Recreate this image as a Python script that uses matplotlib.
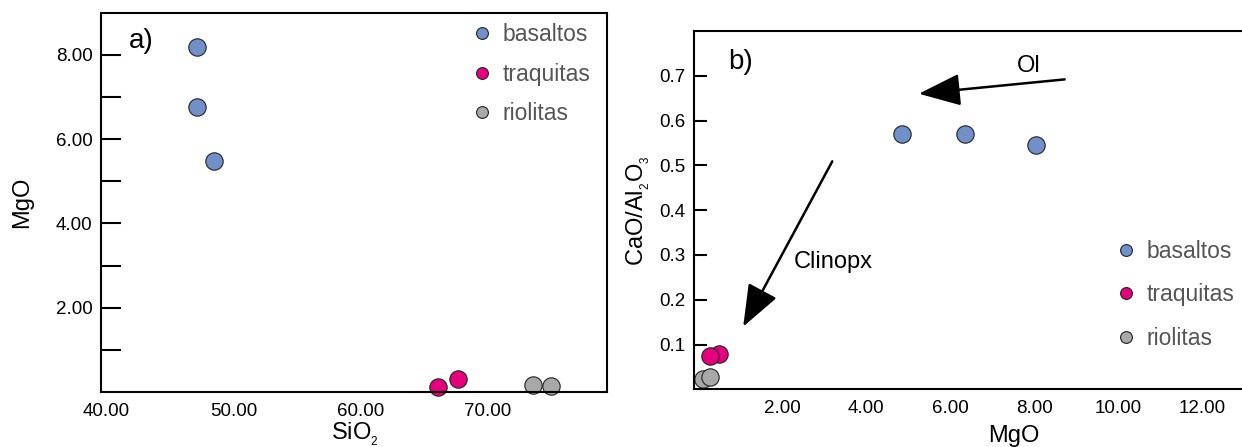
import numpy as np
import matplotlib
matplotlib.use("Agg")
import matplotlib.pyplot as plt
from matplotlib.ticker import FixedLocator, FormatStrFormatter

plt.rcParams['font.family'] = ['Liberation Sans', 'DejaVu Sans']
plt.rcParams['mathtext.fontset'] = 'custom'
plt.rcParams['mathtext.rm'] = 'Liberation Sans'
plt.rcParams['mathtext.it'] = 'Liberation Sans:italic'

# panel a) SiO2 vs MgO
a_bas_sio2 = [47.1, 47.1, 48.5]
a_bas_mgo = [8.19, 6.76, 5.48]
a_tra_sio2 = [66.1, 67.7]
a_tra_mgo = [0.13, 0.31]
a_rio_sio2 = [73.6, 75.0]
a_rio_mgo = [0.17, 0.15]

# panel b) MgO vs CaO/Al2O3
b_bas_mgo = [4.86, 6.36, 8.03]
b_bas_ratio = [0.570, 0.571, 0.545]
b_tra_mgo = [0.49, 0.27]
b_tra_ratio = [0.079, 0.075]
b_rio_mgo = [0.11, 0.28]
b_rio_ratio = [0.022, 0.027]

# trend arrows (tail, tip) in MgO / ratio units
ol_tail, ol_tip = (8.72, 0.692), (5.25, 0.660)
cpx_tail, cpx_tip = (3.19, 0.509), (1.07, 0.140)

labels = ["basaltos", "traquitas", "riolitas"]
colors = ["#7190c9", "#e5007d", "#a9a8a8"]

a_xticks = [40, 50, 60, 70]
a_yticks = [2, 4, 6, 8]
a_yminor = [1, 3, 5, 7]
b_xticks = [2, 4, 6, 8, 10, 12]
b_yticks = [0.1, 0.2, 0.3, 0.4, 0.5, 0.6, 0.7]

msize = 12.5
medge = "#222222"

fig = plt.figure(figsize=(12.42, 4.47), dpi=100)
axa = fig.add_axes([0.0813, 0.123, 0.4074, 0.8486])
axb = fig.add_axes([0.5588, 0.1291, 0.4412, 0.8015])


def style(ax, tick_len):
    for s in ax.spines.values():
        s.set_linewidth(1.5)
    ax.tick_params(axis='x', which='both', length=0, labelsize=13.5, pad=8)
    ax.tick_params(axis='y', which='both', direction='in', length=tick_len,
                   width=1.5, labelsize=13.5, pad=6)


def legend(ax, anchor, spacing):
    handles = [plt.Line2D([], [], ls='none', marker='o', ms=8.5, mfc=c,
                          mec=medge, mew=0.8) for c in colors]
    ax.legend(handles, labels, loc='upper left', bbox_to_anchor=anchor,
              frameon=False, fontsize=16.5, labelcolor='#555555',
              handlelength=0.8, handletextpad=0.5, labelspacing=spacing,
              borderpad=0, borderaxespad=0)


# ---- panel a
for xs, ys, c in zip([a_bas_sio2, a_tra_sio2, a_rio_sio2],
                     [a_bas_mgo, a_tra_mgo, a_rio_mgo], colors):
    axa.plot(xs, ys, ls='none', marker='o', ms=msize, mfc=c, mec=medge,
             mew=0.8, clip_on=False)
axa.set_xlim(39.55, 79.45)
axa.set_ylim(0, 9.0)
axa.xaxis.set_major_locator(FixedLocator(a_xticks))
axa.xaxis.set_major_formatter(FormatStrFormatter('%.2f'))
axa.yaxis.set_major_locator(FixedLocator(a_yticks))
axa.yaxis.set_minor_locator(FixedLocator(a_yminor))
axa.yaxis.set_major_formatter(FormatStrFormatter('%.2f'))
style(axa, 14.4)
axa.set_xlabel(r'SiO$_{_\mathregular{2}}$', fontsize=17)
axa.set_ylabel('MgO', fontsize=17)
axa.xaxis.set_label_coords(0.502, -0.074)
axa.yaxis.set_label_coords(-0.134, 0.5)
axa.text(0.0545, 0.926, 'a)', transform=axa.transAxes, fontsize=20,
         va='center', ha='left')
legend(axa, (0.735, 0.972), 0.72)

# ---- panel b
for xs, ys, c in zip([b_bas_mgo, b_tra_mgo, b_rio_mgo],
                     [b_bas_ratio, b_tra_ratio, b_rio_ratio], colors):
    axb.plot(xs, ys, ls='none', marker='o', ms=msize, mfc=c, mec=medge,
             mew=0.8, clip_on=False)
axb.set_xlim(-0.1, 12.94)
axb.set_ylim(0, 0.8)
axb.xaxis.set_major_locator(FixedLocator(b_xticks))
axb.xaxis.set_major_formatter(FormatStrFormatter('%.2f'))
axb.yaxis.set_major_locator(FixedLocator(b_yticks))
axb.yaxis.set_major_formatter(FormatStrFormatter('%.1f'))
axb.spines['right'].set_visible(False)
style(axb, 9.4)
axb.set_xlabel('MgO', fontsize=17)
axb.set_ylabel(r'CaO/Al$_{_\mathregular{2}}$O$_{_\mathregular{3}}$', fontsize=17)
axb.xaxis.set_label_coords(0.584, -0.1)
axb.yaxis.set_label_coords(-0.077, 0.5)
axb.text(0.062, 0.914, 'b)', transform=axb.transAxes, fontsize=20,
         va='center', ha='left')

arrow = dict(arrowstyle='-|>,head_length=1.3,head_width=0.5',
             mutation_scale=20, lw=1.8, color='black', shrinkA=0, shrinkB=0)
axb.annotate('', xy=ol_tip, xytext=ol_tail, arrowprops=arrow)
axb.annotate('', xy=cpx_tip, xytext=cpx_tail, arrowprops=arrow)
axb.text(7.86, 0.722, 'Ol', fontsize=17, ha='center', va='center')
axb.text(3.21, 0.285, 'Clinopx', fontsize=17, ha='center', va='center')
legend(axb, (0.772, 0.418), 0.9)

fig.savefig('out.png', dpi=100)
